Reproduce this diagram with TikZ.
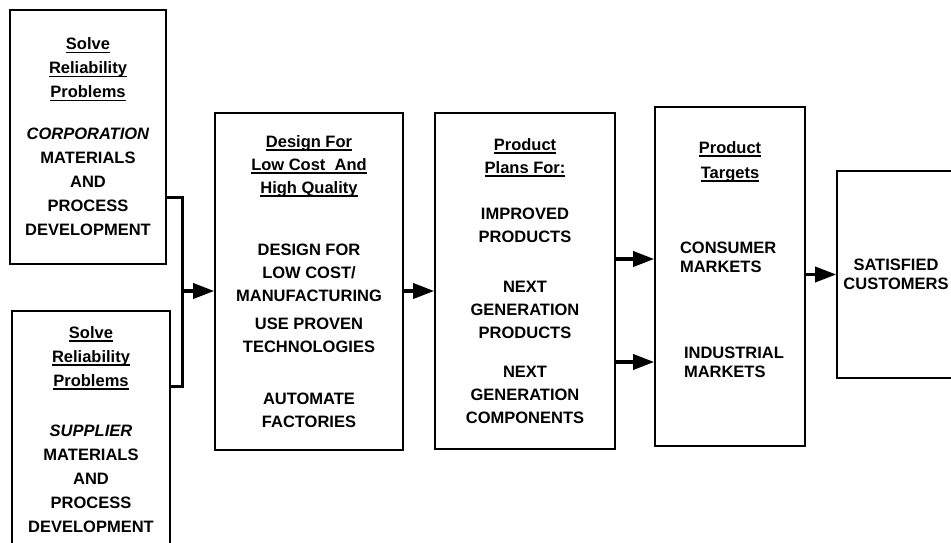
\documentclass[tikz,border=0pt]{standalone}
\usepackage{fontspec}
\setmainfont{Liberation Sans}
\usetikzlibrary{arrows.meta, positioning}

% underlined heading line
\newcommand{\hd}[1]{\sbox0{#1}\rlap{\rule[-3.5pt]{\wd0}{1.5pt}}\usebox0}

\begin{document}
\begin{tikzpicture}[
	x=1pt, y=-1pt,
	every node/.style={font=\bfseries\fontsize{16.5}{24}\selectfont, align=center, inner sep=0pt},
	stage/.style={draw, rectangle, line width=1.6pt},
	flow/.style={draw, line width=3.5pt, -{Triangle[length=21pt, width=15pt]}},
	link/.style={draw, line width=3pt},
	]
	\useasboundingbox (0,0) rectangle (951,543);
	
	% Reliability problems (left column)
	\node[stage, minimum width=156pt, minimum height=254pt] (corp) at (88,137) {
		\hd{Solve}\\ \hd{Reliability}\\ \hd{Problems}\\[18pt]
		\textit{CORPORATION}\\ MATERIALS\\ AND\\ PROCESS\\ DEVELOPMENT
	};
	\node[stage, minimum width=158pt, minimum height=237pt] (supp) at (91,429.5) {
		\hd{Solve}\\ \hd{Reliability}\\ \hd{Problems}\\[26pt]
		\textit{SUPPLIER}\\ MATERIALS\\ AND\\ PROCESS\\ DEVELOPMENT
	};
	
	% Design box
	\node[stage, minimum width=188pt, minimum height=337pt,
		font=\bfseries\fontsize{16.5}{23}\selectfont] (design) at (309,281.5) {
		\hd{Design For}\\ \hd{Low Cost\ \ And}\\ \hd{High Quality}\\[39pt]
		DESIGN FOR\\ LOW COST/\\ MANUFACTURING\\[5pt]
		USE PROVEN\\ TECHNOLOGIES\\[29pt]
		AUTOMATE\\ FACTORIES
	};
	
	% Product plans
	\node[stage, minimum width=180pt, minimum height=336pt,
		font=\bfseries\fontsize{16.5}{23}\selectfont] (plans) at (525,281) {
		\hd{Product}\\ \hd{Plans For:}\\[23pt]
		IMPROVED\\ PRODUCTS\\[27pt]
		NEXT\\ GENERATION\\ PRODUCTS\\[16pt]
		NEXT\\ GENERATION\\ COMPONENTS
	};
	
	% Product targets
	\node[stage, minimum width=150pt, minimum height=339pt,
		font=\bfseries\fontsize{16.5}{19}\selectfont] (targets) at (730,276.5) {
		\hd{Product}\\[6pt] \hd{Targets}\\[56pt]
		\makebox[100pt][l]{CONSUMER}\\ \makebox[100pt][l]{MARKETS}\\[67pt]
		\makebox[92pt][l]{INDUSTRIAL}\\ \makebox[92pt][l]{MARKETS}\\[15pt]\mbox{}
	};
	
	% Satisfied customers
	\node[stage, minimum width=118pt, minimum height=207pt,
		font=\bfseries\fontsize{16.5}{19}\selectfont] (happy) at (896,274.5) {
		SATISFIED\\ CUSTOMERS
	};
	
	% Joining the two left boxes
	\coordinate (join) at (182,291);
	\path[link] ([yshift=-60pt]corp.east) -| (join) |- ([yshift=43pt]supp.east);
	
	% Arrows
	\draw[flow] (join) -- (design.west |- join);
	\draw[flow] (design.east |- join) -- (plans.west |- join);
	\draw[flow] ([yshift=22pt]plans.east) -- ([yshift=22pt]targets.west |- plans.east);
	\draw[flow] ([yshift=-81pt]plans.east) -- ([yshift=-81pt]targets.west |- plans.east);
	\draw[flow] (targets.east |- happy.west) -- (happy.west);
	
\end{tikzpicture}
\end{document}
